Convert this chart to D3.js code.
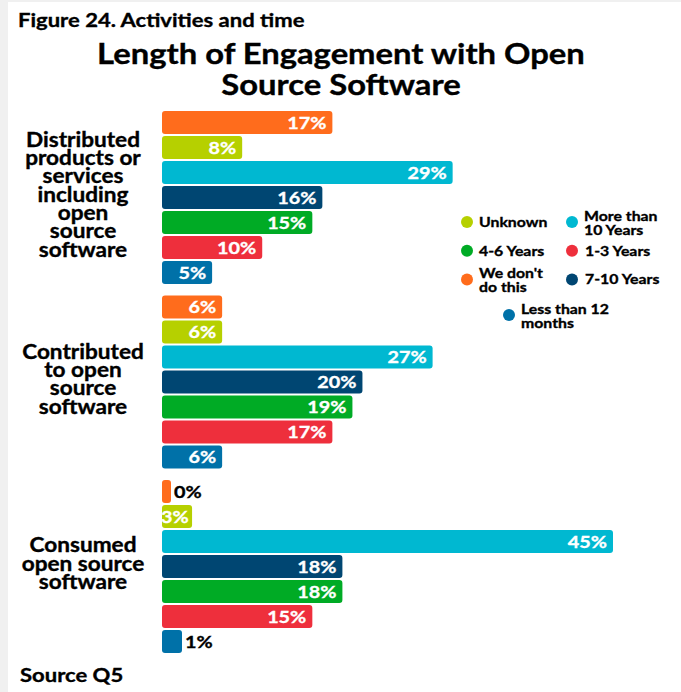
<!DOCTYPE html>
<html>
<head>
<meta charset="utf-8">
<script src="https://cdn.jsdelivr.net/npm/d3@7"></script>
<style>
  html, body { margin: 0; padding: 0; background: #f0f0f0; }
  svg { display: block; }
  text { font-family: Lato, "Open Sans", sans-serif; font-weight: 700; }
</style>
</head>
<body>
<script>
// ---- data ----
const categories = [
  "Distributed\nproducts or\nservices\nincluding\nopen\nsource\nsoftware",
  "Contributed\nto open\nsource\nsoftware",
  "Consumed\nopen source\nsoftware"
];
const seriesNames = ["We don't do this", "Unknown", "More than 10 Years", "7-10 Years", "4-6 Years", "1-3 Years", "Less than 12 months"];
const seriesColors = ["#ff6c1c", "#b6d000", "#00b8d1", "#004672", "#00ab25", "#ee2f3c", "#0071a8"];
// values[series][category]
const weDontDoThis = [17, 6, 0];
const unknown      = [8, 6, 3];
const moreThan10   = [29, 27, 45];
const years7to10   = [16, 20, 18];
const years4to6    = [15, 19, 18];
const years1to3    = [10, 17, 15];
const lessThan12m  = [5, 6, 1];
const seriesValues = [weDontDoThis, unknown, moreThan10, years7to10, years4to6, years1to3, lessThan12m];
const legendOrder = ["Unknown", "More than 10 Years", "4-6 Years", "1-3 Years", "We don't do this", "7-10 Years", "Less than 12 months"];
const legendLabels = {
  "Unknown": ["Unknown"],
  "More than 10 Years": ["More than", "10 Years"],
  "4-6 Years": ["4-6 Years"],
  "1-3 Years": ["1-3 Years"],
  "We don't do this": ["We don't", "do this"],
  "7-10 Years": ["7-10 Years"],
  "Less than 12 months": ["Less than 12", "months"]
};

const W = 681, H = 692;
const STRETCH = 1.13; // reference glyphs are wider than Lato's
const svg = d3.select("body").append("svg").attr("width", W).attr("height", H);

// panel (gray frame on left/top)
svg.append("rect").attr("x", 8).attr("y", 2).attr("width", W - 8).attr("height", H - 2).attr("fill", "#ffffff");

// titles
svg.append("text").attr("x", 18).attr("y", 27).attr("font-size", 19.5).attr("fill", "#000")
  .text("Figure 24. Activities and time");
const title = svg.append("text").attr("x", 341).attr("text-anchor", "middle").attr("font-size", 29).attr("fill", "#000");
title.append("tspan").attr("x", 341).attr("y", 64).text("Length of Engagement with Open");
title.append("tspan").attr("x", 341).attr("y", 95).text("Source Software");

svg.append("text").attr("x", 20).attr("y", 682).attr("font-size", 19.5).attr("fill", "#000").text("Source Q5");

// scales
const left = 162;
const x = d3.scaleLinear().domain([0, 45]).range([0, 451]);
const y0 = d3.scaleBand().domain(categories).range([105.5, 659]);
const y1 = d3.scaleBand().domain(seriesNames).range([4.5, 179.5]).paddingInner(0.08).paddingOuter(0.04);
const color = d3.scaleOrdinal().domain(seriesNames).range(seriesColors);

const rows = [];
categories.forEach((c, ci) => {
  seriesNames.forEach((s, si) => rows.push({ cat: c, series: s, value: seriesValues[si][ci] }));
});

const barW = v => Math.max(x(v), v > 0 ? 20 : 9);

const g = svg.append("g");
const bars = g.selectAll("g.bar").data(rows).join("g").attr("class", "bar")
  .attr("transform", d => `translate(${left},${y0(d.cat) + y1(d.series)})`);

bars.append("rect")
  .attr("width", d => barW(d.value))
  .attr("height", y1.bandwidth())
  .attr("rx", 3).attr("ry", 3)
  .attr("fill", d => color(d.series));

bars.each(function(d) {
  const gg = d3.select(this);
  const w = barW(d.value);
  const t = gg.append("text").attr("font-size", 17.5).attr("y", y1.bandwidth() / 2 + 6).text(d.value + "%");
  const len = t.node().getComputedTextLength() * STRETCH;
  if (len <= w + 2) {
    t.attr("x", Math.max(w - 6, len - 1)).attr("text-anchor", "end").attr("fill", "#ffffff");
  } else {
    t.attr("x", w + 3).attr("text-anchor", "start").attr("fill", "#000000");
  }
});

// category labels
const lh = 18.3;
categories.forEach(c => {
  const lines = c.split("\n");
  const cy = y0(c) + y0.bandwidth() / 2 - 3;
  const t = svg.append("text").attr("text-anchor", "middle").attr("font-size", 20).attr("fill", "#000");
  lines.forEach((ln, i) => {
    t.append("tspan").attr("x", 83).attr("y", cy - (lines.length - 1) / 2 * lh + 7 + i * lh).text(ln);
  });
});

// legend
const legX = [467, 572], legY0 = 222, legDy = 28.7;
legendOrder.forEach((name, i) => {
  let col = i % 2, row = Math.floor(i / 2);
  let cx = legX[col], cy = legY0 + row * legDy;
  if (i === legendOrder.length - 1) { cx = 509; cy = 315; }
  svg.append("circle").attr("cx", cx).attr("cy", cy).attr("r", 6).attr("fill", color(name));
  const lines = legendLabels[name];
  const t = svg.append("text").attr("font-size", 14).attr("fill", "#000");
  const tx = cx + (col === 1 && lines.length === 1 ? 13 : 12);
  lines.forEach((ln, k) => {
    const by = lines.length === 1 ? cy + 5 : cy - 1 + k * 13.5;
    t.append("tspan").attr("x", tx).attr("y", by).text(ln);
  });
});

// widen glyphs to match the reference typeface, and thicken slightly
svg.selectAll("text").each(function() {
  const el = d3.select(this);
  const fill = el.attr("fill");
  el.attr("stroke", fill).attr("stroke-width", 0.35);
  const tspans = el.selectAll("tspan");
  if (tspans.size()) {
    tspans.each(function() {
      const len = this.getComputedTextLength();
      d3.select(this).attr("textLength", len * STRETCH).attr("lengthAdjust", "spacingAndGlyphs");
    });
  } else {
    const len = this.getComputedTextLength();
    el.attr("textLength", len * STRETCH).attr("lengthAdjust", "spacingAndGlyphs");
  }
});
</script>
</body>
</html>
